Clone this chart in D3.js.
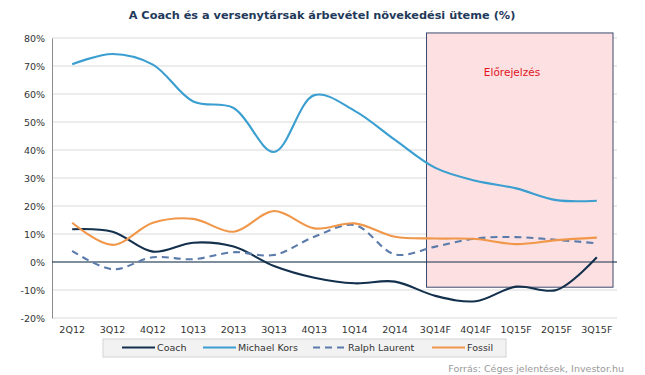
<!DOCTYPE html>
<html>
<head>
<meta charset="utf-8">
<script src="https://cdn.jsdelivr.net/npm/d3@7"></script>
<style>
  body { margin: 0; background: #fff; }
  svg text { font-family: "DejaVu Sans", sans-serif; }
</style>
</head>
<body>
<div id="chart"></div>
<script>
'use strict';

// quarters (F = forecast)
var quarters = ["2Q12", "3Q12", "4Q12", "1Q13", "2Q13", "3Q13", "4Q13",
                "1Q14", "2Q14", "3Q14F", "4Q14F", "1Q15F", "2Q15F", "3Q15F"];

var coach        = [11.7, 10.8, 3.7, 6.9, 5.5, -1.4, -5.6, -7.6, -7.0, -12.1, -14.0, -8.8, -10.0, 1.7];
var michaelKors  = [70.6, 74.3, 70.5, 57.3, 55.0, 39.3, 59.6, 54.0, 43.6, 33.6, 29.0, 26.3, 22.1, 21.9];
var ralphLaurent = [4.0, -2.6, 1.7, 1.0, 3.5, 2.5, 9.0, 13.2, 2.7, 5.5, 8.4, 8.9, 7.9, 6.7];
var fossil       = [14.0, 6.1, 14.0, 15.4, 10.8, 18.2, 12.0, 13.8, 9.0, 8.4, 8.2, 6.4, 7.8, 8.7];

var yTicks = [-20, -10, 0, 10, 20, 30, 40, 50, 60, 70, 80];

var seriesNames  = ["Coach", "Michael Kors", "Ralph Laurent", "Fossil"];
var seriesColors = ["#13304d", "#3a9fd0", "#5b7bab", "#f0974a"];
var seriesDashes = [null, null, "7,5", null];
var seriesData   = [coach, michaelKors, ralphLaurent, fossil];

var W = 645, H = 375;
var margin = {left: 52, right: 28, top: 38, bottom: 57};

var svg = d3.select("#chart").append("svg")
  .attr("width", W).attr("height", H);

var x = d3.scaleBand()
  .domain(quarters)
  .range([margin.left, W - margin.right]);

var y = d3.scaleLinear()
  .domain([-20, 80])
  .range([H - margin.bottom, margin.top]);

// title
svg.append("text")
  .attr("x", 322).attr("y", 19)
  .attr("text-anchor", "middle")
  .style("font-size", "11.3px")
  .style("font-weight", "bold")
  .style("fill", "#1f3a5a")
  .text("A Coach és a versenytársak árbevétel növekedési üteme (%)");

// gridlines
svg.append("g").selectAll("line")
  .data(yTicks)
  .enter().append("line")
  .attr("x1", margin.left).attr("x2", W - margin.right)
  .attr("y1", function(d) { return y(d); })
  .attr("y2", function(d) { return y(d); })
  .style("stroke", "#d9d9d9")
  .style("stroke-width", 1);

// forecast shaded box
var boxLeft = x("3Q14F") + x.bandwidth() * 0.28;
svg.append("rect")
  .attr("x", boxLeft)
  .attr("y", y(81.8))
  .attr("width", (W - margin.right - 4) - boxLeft)
  .attr("height", y(-9) - y(81.8))
  .style("fill", "#fde0e1")
  .style("stroke", "#3c4a6e")
  .style("stroke-width", 1);

svg.append("text")
  .attr("x", 512).attr("y", 76)
  .attr("text-anchor", "middle")
  .style("font-size", "10.5px")
  .style("fill", "#e0141e")
  .text("Előrejelzés");

// y axis
var yAxis = d3.axisLeft(y)
  .tickValues(yTicks)
  .tickSize(0)
  .tickPadding(7)
  .tickFormat(function(d) { return d + "%"; });

var gy = svg.append("g")
  .attr("transform", "translate(" + margin.left + ",0)")
  .call(yAxis);
gy.select(".domain").style("stroke", "#8c8c8c");
gy.selectAll("text")
  .style("font-size", "9.5px")
  .style("fill", "#333")
  .style("font-family", "\"DejaVu Sans\", sans-serif");

// x axis labels
var xAxis = d3.axisBottom(x).tickSize(0).tickPadding(8);
var gx = svg.append("g")
  .attr("transform", "translate(0," + (H - margin.bottom) + ")")
  .call(xAxis);
gx.select(".domain").remove();
gx.selectAll("text")
  .style("font-size", "9.5px")
  .style("fill", "#333")
  .style("font-family", "\"DejaVu Sans\", sans-serif");

// zero line
svg.append("line")
  .attr("x1", margin.left).attr("x2", W - margin.right)
  .attr("y1", y(0)).attr("y2", y(0))
  .style("stroke", "#13304d")
  .style("stroke-width", 1);

// series lines
var line = d3.line()
  .x(function(d, i) { return x(quarters[i]) + x.bandwidth() / 2; })
  .y(function(d) { return y(d); })
  .curve(d3.curveCatmullRom.alpha(0.5));

seriesData.forEach(function(vals, i) {
  svg.append("path")
    .datum(vals)
    .attr("d", line)
    .style("fill", "none")
    .style("stroke", seriesColors[i])
    .style("stroke-width", 2.1)
    .style("stroke-dasharray", seriesDashes[i]);
});

// legend
var legend = svg.append("g");
legend.append("rect")
  .attr("x", 103).attr("y", 339)
  .attr("width", 403).attr("height", 18)
  .style("fill", "#f2f2f2")
  .style("stroke", "#d4d4d4");

var legendX = [122, 203, 313, 432];
seriesNames.forEach(function(name, i) {
  legend.append("line")
    .attr("x1", legendX[i]).attr("x2", legendX[i] + 33)
    .attr("y1", 347.5).attr("y2", 347.5)
    .style("stroke", seriesColors[i])
    .style("stroke-width", 2.1)
    .style("stroke-dasharray", seriesDashes[i]);
  legend.append("text")
    .attr("x", legendX[i] + 35).attr("y", 351)
    .style("font-size", "9.5px")
    .style("fill", "#333")
    .text(name);
});

// source
svg.append("text")
  .attr("x", 624).attr("y", 372)
  .attr("text-anchor", "end")
  .style("font-size", "9.5px")
  .style("fill", "#999")
  .text("Forrás: Céges jelentések, Investor.hu");
</script>
</body>
</html>
